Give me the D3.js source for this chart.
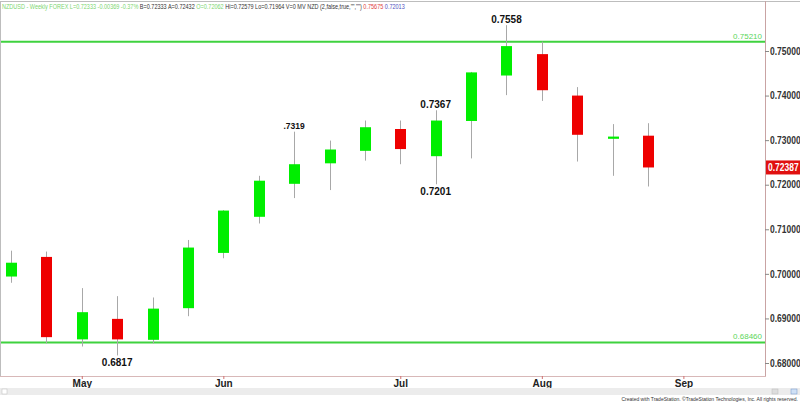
<!DOCTYPE html>
<html><head><meta charset="utf-8">
<script src="https://cdn.jsdelivr.net/npm/d3@7"></script>
<style>html,body{margin:0;padding:0;background:#fff;}svg{display:block;}</style>
</head><body>
<svg id="chart" width="800" height="402"></svg>
<script>
// ---- data ----
const weeks = ["2013-04-21","2013-04-28","2013-05-05","2013-05-12","2013-05-19","2013-05-26","2013-06-02","2013-06-09","2013-06-16","2013-06-23","2013-06-30","2013-07-07","2013-07-14","2013-07-21","2013-07-28","2013-08-04","2013-08-11","2013-08-18","2013-08-25"];
const openV  = [0.6994,0.7038,0.6853,0.6899,0.6852,0.6923,0.7047,0.7128,0.7202,0.7248,0.7276,0.7325,0.7264,0.7343,0.7445,0.7493,0.7400,0.7303,0.7310];
const highV  = [0.7052,0.7050,0.6968,0.6950,0.6947,0.7076,0.7143,0.7220,0.7319,0.7299,0.7344,0.7344,0.7367,0.7453,0.7558,0.7521,0.7419,0.7336,0.7338];
const lowV   = [0.6980,0.6844,0.6837,0.6817,0.6844,0.6905,0.7035,0.7113,0.7170,0.7188,0.7254,0.7246,0.7201,0.7259,0.7401,0.7388,0.7252,0.7220,0.7196];
const closeV = [0.7025,0.6858,0.6914,0.6853,0.6922,0.7059,0.7142,0.7209,0.7246,0.7279,0.7329,0.7280,0.7344,0.7452,0.7511,0.7412,0.7312,0.7308,0.72387];
const priceTicks = [0.68,0.69,0.70,0.71,0.72,0.73,0.74,0.75];
const monthTickDates = ["2013-05-05","2013-06-02","2013-07-07","2013-08-04","2013-09-01"];
const monthLabels = ["May","Jun","Jul","Aug","Sep"];
const hLines = [0.75210, 0.68460];
const hLineLabels = ["0.75210","0.68460"];
const lastPrice = 0.72387;
const annotations = [
  {i:3, text:"0.6817", at:"low"},
  {i:8, text:".7319", at:"high"},
  {i:12, text:"0.7367", at:"high"},
  {i:12, text:"0.7201", at:"low"},
  {i:14, text:"0.7558", at:"high"}
];
const headerParts = [
  {t:"NZDUSD - Weekly FOREX L=0.72333 -0.00369 -0.37% ", c:"#7bd66f"},
  {t:"B=0.72333 A=0.72432 ", c:"#333"},
  {t:"O=0.72062 ", c:"#7bd66f"},
  {t:"Hi=0.72579 Lo=0.71964 V=0 MV NZD (2,false,true,\"\",\"\") ", c:"#333"},
  {t:"0.75675 ", c:"#e04040"},
  {t:"0.72013", c:"#5050c0"}
];

// ---- drawing ----
const svg = d3.select("#chart");
const FONT = "Arial, Liberation Sans, sans-serif";
const parse = d3.timeParse("%Y-%m-%d");
const dates = weeks.map(parse);
const x = d3.scaleTime().domain([dates[0], dates[dates.length-1]]).range([11, 648]);
const y = d3.scaleLinear().domain([0.68, 0.75]).range([363, 51]);
const plotRight = 765, plotBottom = 376;
const bodyW = 11;

// frame
svg.append("line").attr("x1",0).attr("x2",800).attr("y1",1.5).attr("y2",1.5).attr("stroke","#bdbdbd");
svg.append("line").attr("x1",0.5).attr("x2",0.5).attr("y1",1).attr("y2",plotBottom).attr("stroke","#bdbdbd");
svg.append("line").attr("x1",plotRight+0.5).attr("x2",plotRight+0.5).attr("y1",1).attr("y2",plotBottom).attr("stroke","#c9a3a3");
svg.append("line").attr("x1",0).attr("x2",plotRight+1).attr("y1",plotBottom+0.5).attr("y2",plotBottom+0.5).attr("stroke","#d8b8b8");

// header (one text, horizontally condensed to fit like the original)
const hg = svg.append("g");
const ht = hg.append("text").attr("x",0).attr("y",9).attr("font-family",FONT).attr("font-size",7.4);
headerParts.forEach(p => ht.append("tspan").attr("fill",p.c).text(p.t));
const hw = ht.node().getComputedTextLength();
hg.attr("transform",`translate(2,0) scale(${403/hw},1)`);

// horizontal support/resistance lines
hLines.forEach((v,k) => {
  svg.append("line").attr("x1",1).attr("x2",plotRight).attr("y1",y(v)).attr("y2",y(v))
    .attr("stroke","#3fd23f").attr("stroke-width",2);
  svg.append("text").attr("x",plotRight-3).attr("y",y(v)-3).attr("text-anchor","end")
    .attr("font-family",FONT).attr("font-size",8).attr("fill","#5bd65b").text(hLineLabels[k]);
});

// candles
const g = svg.append("g");
dates.forEach((d,i) => {
  const cx = Math.round(x(d)) + 0.5;
  g.append("line").attr("x1",cx).attr("x2",cx).attr("y1",y(highV[i])).attr("y2",y(lowV[i]))
    .attr("stroke","#a8a8a8").attr("stroke-width",1);
  const up = closeV[i] >= openV[i];
  const top = y(Math.max(openV[i], closeV[i])), bot = y(Math.min(openV[i], closeV[i]));
  g.append("rect").attr("x",cx - bodyW/2).attr("y",top).attr("width",bodyW).attr("height",Math.max(bot-top,2))
    .attr("fill", up ? "#00ee00" : "#ee0000");
});

// annotations
annotations.forEach(a => {
  const cx = x(dates[a.i]);
  const yy = a.at === "high" ? y(highV[a.i]) - 2.5 : y(lowV[a.i]) + 11;
  svg.append("text").attr("x",cx).attr("y",yy).attr("text-anchor","middle")
    .attr("font-family",FONT).attr("font-weight","bold")
    .attr("font-size", a.text.length < 6 ? 8.5 : 10).attr("fill","#111").text(a.text);
});

// price axis
const yAxis = d3.axisRight(y).tickValues(priceTicks).tickFormat(d3.format(".5f")).tickSize(4).tickSizeOuter(0);
const ya = svg.append("g").attr("transform",`translate(${plotRight},0)`).call(yAxis);
ya.select(".domain").remove();
ya.selectAll("line").attr("stroke","#888");
const sx = 0.85;
ya.selectAll("text").attr("font-family",FONT).attr("font-weight","bold")
  .attr("font-size",10).attr("fill","#333").attr("x",5/sx)
  .attr("transform",`scale(${sx},1)`);

// last price tag
svg.append("rect").attr("x",plotRight+1).attr("y",y(lastPrice)-7).attr("width",34).attr("height",14).attr("fill","#e01010");
svg.append("text").attr("x",(plotRight+3)/sx).attr("y",y(lastPrice)+3.5)
  .attr("transform",`scale(${sx},1)`)
  .attr("font-family",FONT).attr("font-weight","bold").attr("font-size",10)
  .attr("fill","#fff").text(d3.format(".5f")(lastPrice));

// month axis
const xAxis = d3.axisBottom(x).tickValues(monthTickDates.map(parse))
  .tickFormat((d,i) => monthLabels[i]).tickSize(3).tickSizeOuter(0);
const xa = svg.append("g").attr("transform",`translate(0,${plotBottom})`).call(xAxis);
xa.select(".domain").remove();
xa.selectAll("line").attr("stroke","#d07070");
xa.selectAll("text").attr("font-family","Liberation Sans Narrow, Arial Narrow, Arial, sans-serif")
  .attr("font-weight","bold").attr("font-size",10).attr("fill","#222").attr("y",4).attr("dy","0.71em");

// scrollbar
svg.append("rect").attr("x",0).attr("y",388).attr("width",800).attr("height",7).attr("fill","#ececec");
svg.append("rect").attr("x",2).attr("y",389).attr("width",5).attr("height",5).attr("fill","#fff").attr("stroke","#bbb").attr("stroke-width",0.5);
svg.append("rect").attr("x",772).attr("y",389).attr("width",6).attr("height",5).attr("fill","#ddd").attr("stroke","#bbb").attr("stroke-width",0.5);
svg.append("rect").attr("x",791).attr("y",389).attr("width",6).attr("height",5).attr("fill","#cfe0f5").attr("stroke","#6f94c9").attr("stroke-width",0.5);

// footer
svg.append("text").attr("x",798).attr("y",400.5).attr("text-anchor","end")
  .attr("font-family",FONT).attr("font-size",5).attr("fill","#333")
  .text("Created with TradeStation. \u00A9TradeStation Technologies, Inc. All rights reserved.");
</script>
</body></html>
